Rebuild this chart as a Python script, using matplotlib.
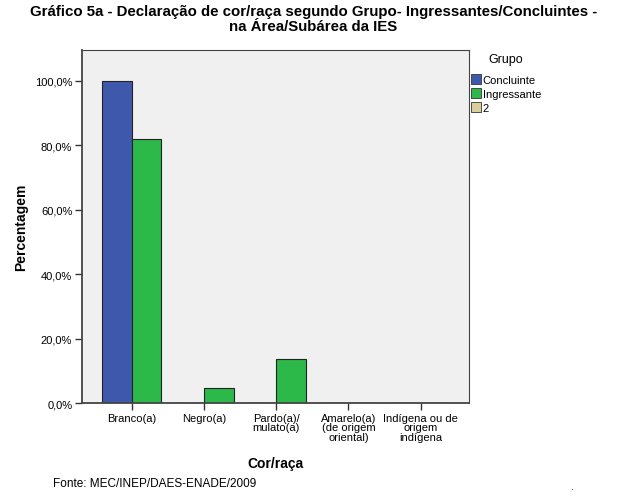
import matplotlib
matplotlib.use("Agg")
import matplotlib.pyplot as plt
import numpy as np
from matplotlib.patches import Patch

plt.rcParams['font.family'] = ['Liberation Sans', 'DejaVu Sans']

# Data
categories = ["Branco(a)", "Negro(a)", "Pardo(a)/\nmulato(a)",
              "Amarelo(a)\n(de origem\noriental)", "Indígena ou de\norigem\nindígena"]
concluinte = [100.0, 0.0, 0.0, 0.0, 0.0]
ingressante = [81.9, 4.6, 13.7, 0.0, 0.0]
y_ticks = [0, 20, 40, 60, 80, 100]
y_tick_labels = ["0,0%", "20,0%", "40,0%", "60,0%", "80,0%", "100,0%"]
legend_labels = ["Concluinte", "Ingressante", "2"]
colors = ["#3E58AC", "#2DB84A", "#D8D09A"]

fig = plt.figure(figsize=(6.27, 5.02), dpi=100)
ax = fig.add_axes([0.1308, 0.1952, 0.6172, 0.7032])
ax.set_facecolor("#F0F0F0")

x = np.arange(len(categories))
w = 0.41
ax.bar(x - w / 2, concluinte, width=w, color=colors[0], edgecolor="#222222", linewidth=0.8)
ax.bar(x + w / 2, ingressante, width=w, color=colors[1], edgecolor="#222222", linewidth=0.8)

ax.set_xlim(-0.69, 4.67)
ax.set_ylim(0, 109.6)
ax.set_yticks(y_ticks)
ax.set_yticklabels(y_tick_labels, fontsize=8)
ax.set_xticks(x)
ax.set_xticklabels(categories, fontsize=8, linespacing=0.95)
ax.tick_params(axis='both', length=5, width=1, color="#333333", pad=2)
for side in ["left", "bottom"]:
    ax.spines[side].set_color("#444444")
    ax.spines[side].set_linewidth(1.3)
for side in ["top", "right"]:
    ax.spines[side].set_color("#444444")
    ax.spines[side].set_linewidth(0.8)

ax.set_ylabel("Percentagem", fontsize=10, fontweight='bold', labelpad=5)
ax.set_xlabel("Cor/raça", fontsize=10, fontweight='bold', labelpad=10)

fig.text(0.5, 0.99, "Gráfico 5a - Declaração de cor/raça segundo Grupo- Ingressantes/Concluintes -\nna Área/Subárea da IES",
         ha='center', va='top', fontsize=10.8, fontweight='bold', linespacing=1.05)

handles = [Patch(facecolor=c, edgecolor="#333333", linewidth=0.6) for c in colors]
leg = fig.legend(handles, legend_labels, title="Grupo", loc='upper left',
                 bbox_to_anchor=(0.751, 0.893), frameon=False, fontsize=8,
                 title_fontsize=9, handlelength=0.9, handleheight=0.95,
                 handletextpad=0.15, labelspacing=0.3, borderaxespad=0,
                 borderpad=0)
leg._legend_box.sep = 7

fig.text(0.085, 0.036, "Fonte: MEC/INEP/DAES-ENADE/2009", fontsize=8.5, ha='left', va='center')
fig.text(0.911, 0.03, ".", fontsize=7, ha='center', va='center')

fig.savefig("out.png", dpi=100)
